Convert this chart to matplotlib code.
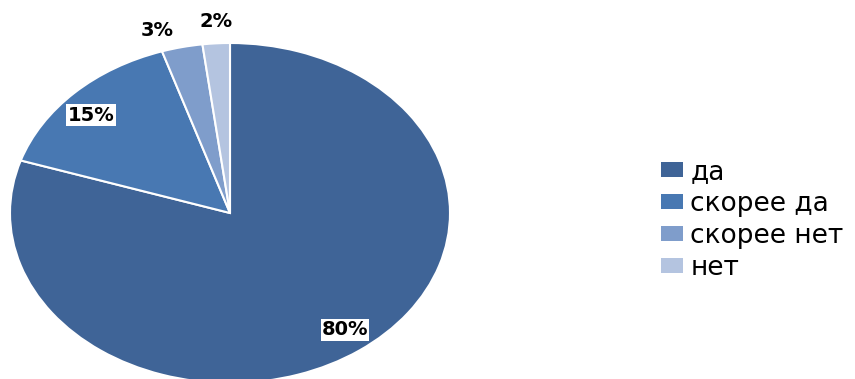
import matplotlib
matplotlib.use("Agg")
import matplotlib.pyplot as plt
from matplotlib.patches import Patch

categories = ["да", "скорее да", "скорее нет", "нет"]
values = [80, 15, 3, 2]
pct_labels = ["80%", "15%", "3%", "2%"]
colors = ["#3F6497", "#4878B2", "#7F9DCB", "#B4C4E0"]
# label positions (data coords of the unit pie)
label_pos = [(0.523, -0.688), (-0.632, 0.576), (-0.332, 1.076), (-0.064, 1.124)]
label_box = [True, True, False, False]

fig = plt.figure(figsize=(8.55, 3.79), dpi=100)
# pie ellipse: center (230,213)px, rx 220, ry 170
W, H = 855, 379
cx, cy, rx, ry = 230, 213, 220, 170
ax = fig.add_axes([(cx - rx) / W, (H - (cy + ry)) / H, 2 * rx / W, 2 * ry / H])

wedges, _ = ax.pie(values, colors=colors, startangle=90, counterclock=False,
                   radius=1, center=(0, 0), frame=False,
                   wedgeprops=dict(edgecolor="white", linewidth=1.5))
ax.set_xlim(-1, 1)
ax.set_ylim(-1, 1)
ax.set_aspect("auto")
ax.axis("off")
for w in wedges:
    w.set_clip_on(False)

for txt, (x, y), box in zip(pct_labels, label_pos, label_box):
    kw = {}
    if box:
        kw["bbox"] = dict(boxstyle="square,pad=0.06", facecolor="white", edgecolor="none")
    ax.text(x, y, txt, ha="center", va="center", fontsize=14, fontweight="bold",
            color="black", family="DejaVu Sans", clip_on=False, **kw)

handles = [Patch(facecolor=c, edgecolor="none") for c in colors]
fig.legend(handles, categories, loc="center left",
           bbox_to_anchor=(658 / W, 1 - 220 / H), frameon=False,
           fontsize=19, handlelength=0.83, handleheight=0.5,
           handletextpad=0.3, labelspacing=0.22, borderpad=0.1,
           borderaxespad=0)

fig.savefig("out.png", dpi=100)
